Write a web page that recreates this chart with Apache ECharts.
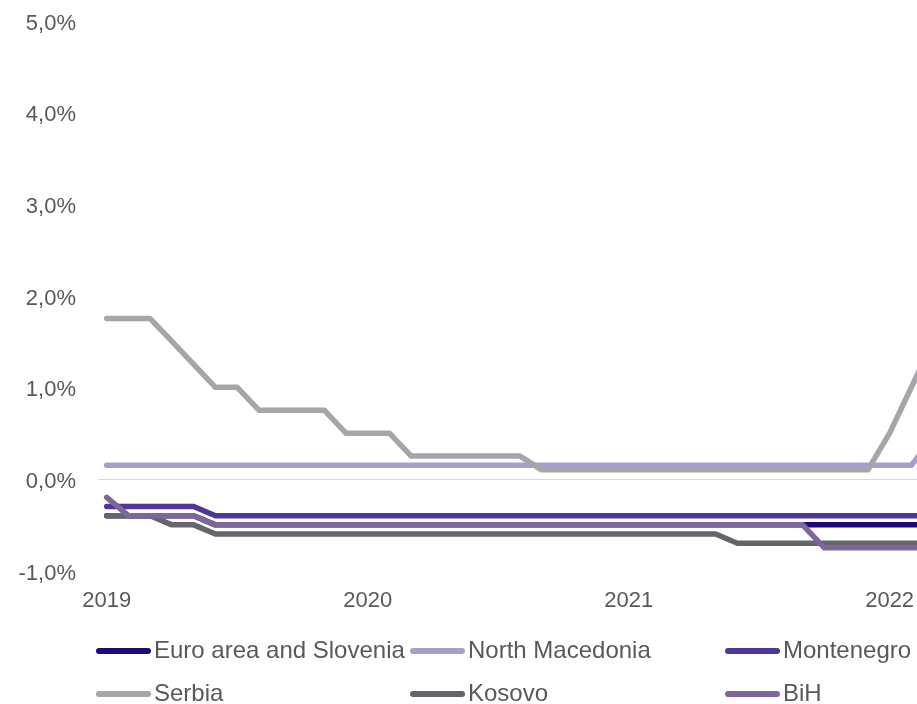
<!DOCTYPE html>
<html><head><meta charset="utf-8">
<script src="https://cdn.jsdelivr.net/npm/echarts@6/dist/echarts.min.js"></script>
<style>html,body{margin:0;padding:0;overflow:hidden;background:#fff;width:917px;height:704px}#c{width:1000px;height:704px}</style>
</head><body><div id="c"></div><script>
// months: index 0 = Jan 2019 ... index 38 = Mar 2022
const yearLabels = ['2019', '2020', '2021', '2022'];
const yearMonthIndex = [0, 12, 24, 36];
const seriesNames = ['Euro area and Slovenia', 'North Macedonia', 'Montenegro', 'Serbia', 'Kosovo', 'BiH'];
const euroArea = [-0.4,-0.4,-0.4,-0.4,-0.4,-0.5,-0.5,-0.5,-0.5,-0.5,-0.5,-0.5,-0.5,-0.5,-0.5,-0.5,-0.5,-0.5,-0.5,-0.5,-0.5,-0.5,-0.5,-0.5,-0.5,-0.5,-0.5,-0.5,-0.5,-0.5,-0.5,-0.5,-0.5,-0.5,-0.5,-0.5,-0.5,-0.5,-0.5];
const northMacedonia = [0.15,0.15,0.15,0.15,0.15,0.15,0.15,0.15,0.15,0.15,0.15,0.15,0.15,0.15,0.15,0.15,0.15,0.15,0.15,0.15,0.15,0.15,0.15,0.15,0.15,0.15,0.15,0.15,0.15,0.15,0.15,0.15,0.15,0.15,0.15,0.15,0.15,0.15,0.45];
const montenegro = [-0.3,-0.3,-0.3,-0.3,-0.3,-0.4,-0.4,-0.4,-0.4,-0.4,-0.4,-0.4,-0.4,-0.4,-0.4,-0.4,-0.4,-0.4,-0.4,-0.4,-0.4,-0.4,-0.4,-0.4,-0.4,-0.4,-0.4,-0.4,-0.4,-0.4,-0.4,-0.4,-0.4,-0.4,-0.4,-0.4,-0.4,-0.4,-0.4];
const serbia = [1.75,1.75,1.75,1.5,1.25,1.0,1.0,0.75,0.75,0.75,0.75,0.5,0.5,0.5,0.25,0.25,0.25,0.25,0.25,0.25,0.1,0.1,0.1,0.1,0.1,0.1,0.1,0.1,0.1,0.1,0.1,0.1,0.1,0.1,0.1,0.1,0.5,1.0,1.5];
const kosovo = [-0.4,-0.4,-0.4,-0.5,-0.5,-0.6,-0.6,-0.6,-0.6,-0.6,-0.6,-0.6,-0.6,-0.6,-0.6,-0.6,-0.6,-0.6,-0.6,-0.6,-0.6,-0.6,-0.6,-0.6,-0.6,-0.6,-0.6,-0.6,-0.6,-0.7,-0.7,-0.7,-0.7,-0.7,-0.7,-0.7,-0.7,-0.7,-0.7];
const bih = [-0.2,-0.4,-0.4,-0.4,-0.4,-0.5,-0.5,-0.5,-0.5,-0.5,-0.5,-0.5,-0.5,-0.5,-0.5,-0.5,-0.5,-0.5,-0.5,-0.5,-0.5,-0.5,-0.5,-0.5,-0.5,-0.5,-0.5,-0.5,-0.5,-0.5,-0.5,-0.5,-0.5,-0.75,-0.75,-0.75,-0.75,-0.75,-0.75];

const values = [euroArea, northMacedonia, montenegro, serbia, kosovo, bih];
const colors = ['#21087A', '#A99CCF', '#4F3597', '#A5A6A9', '#63666A', '#7D6698'];
const font = 'Liberation Sans, Arial, sans-serif';
const textColor = '#595959';
const legendIcon = 'path://M3,0H52A3,3,0,0,1,52,6H3A3,3,0,0,1,3,0Z';

const chart = echarts.init(document.getElementById('c'), null, {renderer: 'canvas'});
const series = seriesNames.map((name, k) => ({
  name, type: 'line', symbol: 'none', color: colors[k],
  data: values[k].map((v, i) => [i, v]),
  lineStyle: {width: 5.5, color: colors[k], cap: 'round', join: 'round'},
  markLine: k === 0 ? {silent: true, symbol: 'none', label: {show: false},
    lineStyle: {color: '#D9D9D9', width: 1, type: 'solid'}, data: [{yAxis: 0}]} : undefined
}));
const legendBase = {
  orient: 'vertical', top: 639, height: 120, padding: 0, itemGap: 19, itemWidth: 55, itemHeight: 6,
  icon: legendIcon,
  textStyle: {fontFamily: font, fontSize: 24, color: textColor, padding: [0, 0, 0, -2]}
};
chart.setOption({
  animation: false,
  grid: {left: 98, right: 56, top: 20.5, bottom: 133.3, containLabel: false},
  legend: [
    Object.assign({}, legendBase, {left: 96, data: [seriesNames[0], seriesNames[3]]}),
    Object.assign({}, legendBase, {left: 410, data: [seriesNames[1], seriesNames[4]]}),
    Object.assign({}, legendBase, {left: 725, data: [seriesNames[2], seriesNames[5]]})
  ],
  xAxis: {
    type: 'value', min: -0.4, max: 38.5,
    axisLine: {show: false}, axisTick: {show: false, customValues: yearMonthIndex}, splitLine: {show: false},
    axisLabel: {customValues: yearMonthIndex, margin: 19, fontFamily: font, fontSize: 22, color: textColor,
      formatter: v => yearLabels[yearMonthIndex.indexOf(Math.round(v))] || ''}
  },
  yAxis: {
    type: 'value', min: -1, max: 5, interval: 1,
    axisLine: {show: false}, axisTick: {show: false}, splitLine: {show: false},
    axisLabel: {margin: 22, fontFamily: font, fontSize: 22, color: textColor, verticalAlign: 'top', lineHeight: 6,
      formatter: v => v.toFixed(1).replace('.', ',') + '%'}
  },
  series
});
</script></body></html>
